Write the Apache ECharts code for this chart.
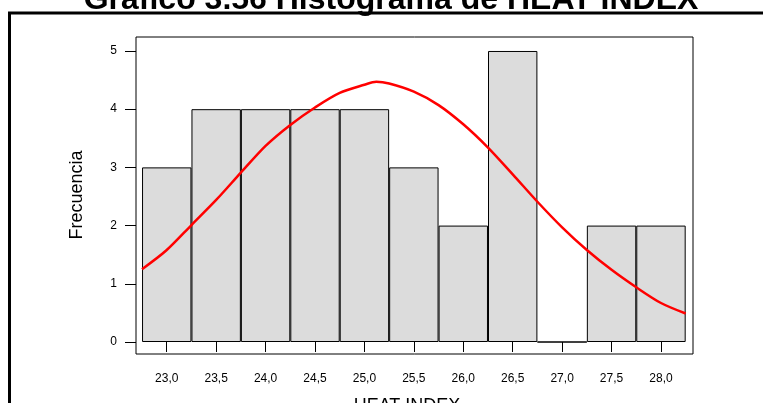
<!DOCTYPE html>
<html>
<head>
<meta charset="utf-8">
<script src="https://cdn.jsdelivr.net/npm/echarts@6/dist/echarts.min.js"></script>
<style>
  html, body { margin: 0; padding: 0; background: #fff; }
  #chart { width: 763px; height: 403px; }
</style>
</head>
<body>
<div id="chart"></div>
<script>
// Histogram bins (class centres) and counts
const binCenters = [23.0, 23.5, 24.0, 24.5, 25.0, 25.5, 26.0, 26.5, 27.0, 27.5, 28.0];
const frequencies = [3, 4, 4, 4, 4, 3, 2, 5, 0, 2, 2];

// Fitted normal curve
const curveX = [22.75, 23.0, 23.25, 23.5, 23.75, 24.0, 24.25, 24.5, 24.75, 25.0, 25.12, 25.25, 25.5, 25.75, 26.0, 26.25, 26.5, 26.75, 27.0, 27.25, 27.5, 27.75, 28.0, 28.25];
const curveY = [1.25, 1.58, 2.01, 2.44, 2.91, 3.37, 3.73, 4.03, 4.28, 4.42, 4.47, 4.44, 4.30, 4.07, 3.74, 3.34, 2.88, 2.41, 1.97, 1.58, 1.24, 0.94, 0.67, 0.49];

// Axis ticks
const xTicks = [23.0, 23.5, 24.0, 24.5, 25.0, 25.5, 26.0, 26.5, 27.0, 27.5, 28.0];
const yTicks = [0, 1, 2, 3, 4, 5];

const font = 'Liberation Sans, Arial, sans-serif';

const chart = echarts.init(document.getElementById('chart'));

let option = {
    backgroundColor: '#fff',
    animation: false,
    grid: {
        left: 136,
        right: 70,
        top: 37,
        bottom: 49,
        show: true,
        borderColor: '#000',
        borderWidth: 1,
        backgroundColor: 'transparent'
    },
    graphic: [
        {
            type: 'rect',
            shape: { x: 9.5, y: 13, width: 800, height: 500 },
            style: { fill: 'none', stroke: '#000', lineWidth: 3 },
            silent: true
        },
        {
            type: 'text',
            x: 391,
            y: 0,
            style: {
                text: 'Gráfico 3.56 Histograma de HEAT INDEX',
                font: 'bold 32px ' + font,
                fill: '#000',
                align: 'center',
                verticalAlign: 'middle'
            }
        },
        {
            type: 'text',
            x: 77.5,
            y: 195,
            rotation: Math.PI / 2,
            style: {
                text: 'Frecuencia',
                font: '18px ' + font,
                fill: '#000',
                align: 'center',
                verticalAlign: 'middle'
            }
        },
        {
            type: 'text',
            x: 407,
            y: 406,
            style: {
                text: 'HEAT INDEX',
                font: '18px ' + font,
                fill: '#000',
                align: 'center',
                verticalAlign: 'middle'
            }
        }
    ],
    xAxis: {
        type: 'value',
        min: 22.689,
        max: 28.324,
        offset: 3,
        axisLine: { show: false },
        splitLine: { show: false },
        axisTick: {
            show: true,
            customValues: xTicks,
            length: 10,
            lineStyle: { color: '#000', width: 1 }
        },
        axisLabel: {
            customValues: xTicks,
            margin: 16,
            fontSize: 12,
            fontFamily: font,
            color: '#000',
            formatter: function (v) {
                return v.toFixed(1).replace('.', ',');
            }
        }
    },
    yAxis: {
        type: 'value',
        min: -0.206,
        max: 5.24,
        axisLine: { show: false },
        splitLine: { show: false },
        axisTick: {
            show: true,
            customValues: yTicks,
            length: 11,
            lineStyle: { color: '#000', width: 1 }
        },
        axisLabel: {
            customValues: yTicks,
            margin: 19,
            fontSize: 12,
            fontFamily: font,
            color: '#000'
        }
    },
    series: [
        {
            type: 'bar',
            data: binCenters.map((x, i) => [x, frequencies[i]]),
            barWidth: 49.4,
            itemStyle: {
                color: '#dcdcdc',
                borderColor: '#000',
                borderWidth: 1
            },
            silent: true
        },
        {
            type: 'line',
            data: curveX.map((x, i) => [x, curveY[i]]),
            smooth: 0.3,
            showSymbol: false,
            lineStyle: { color: '#ff0000', width: 2.5 },
            silent: true
        }
    ]
};
chart.setOption(option);
</script>
</body>
</html>
